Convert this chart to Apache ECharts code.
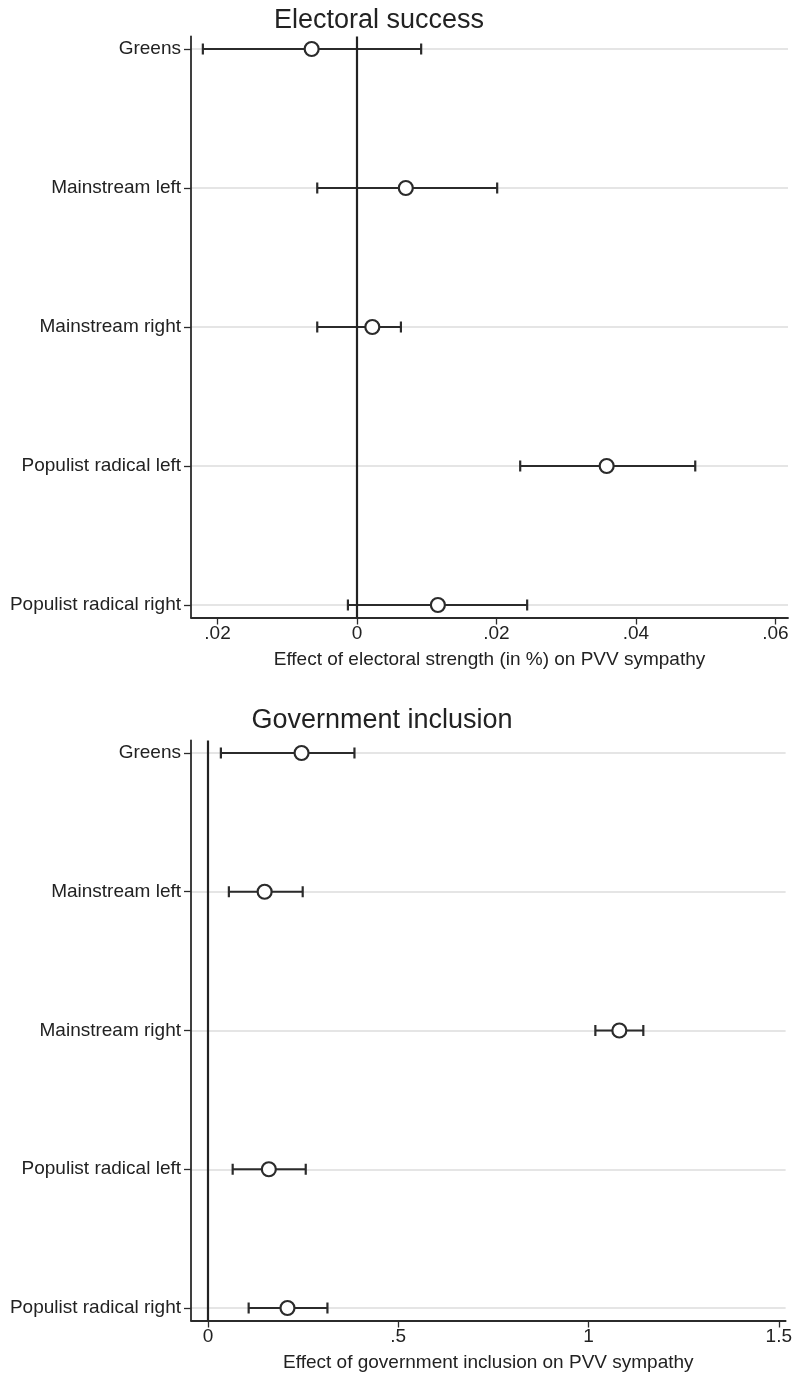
<!DOCTYPE html>
<html>
<head>
<meta charset="utf-8">
<script src="https://cdn.jsdelivr.net/npm/echarts@6/dist/echarts.min.js"></script>
<style>
    html, body { margin: 0; padding: 0; background: #fff; }
    #chart { width: 795px; height: 1375px; }
</style>
</head>
<body>
<div id="chart"></div>
<script>
// party groups, top to bottom
const categories = ['Greens', 'Mainstream left', 'Mainstream right', 'Populist radical left', 'Populist radical right']

// Electoral success panel
const esEst = [-0.0065, 0.0070, 0.0022, 0.0358, 0.0116]
const esLo = [-0.0221, -0.0057, -0.0057, 0.0234, -0.0013]
const esHi = [0.0092, 0.0201, 0.0063, 0.0485, 0.0244]
const esTicks = [-0.02, 0, 0.02, 0.04, 0.06]
const esTickLabels = ['.02', '0', '.02', '.04', '.06']

// Government inclusion panel
const giEst = [0.246, 0.149, 1.081, 0.160, 0.209]
const giLo = [0.034, 0.055, 1.018, 0.065, 0.107]
const giHi = [0.385, 0.249, 1.144, 0.257, 0.314]
const giTicks = [0, 0.5, 1, 1.5]
const giTickLabels = ['0', '.5', '1', '1.5']

const rowIdx = categories.map((c, i) => i)
const ink = '#2b2b2b'
const font = 'Liberation Sans, Arial, sans-serif'

function xAxisCfg(idx, min, max, ticks, labels, name) {
    return {
        gridIndex: idx,
        type: 'value',
        min: min,
        max: max,
        name: name,
        nameLocation: 'middle',
        nameGap: 33,
        nameTextStyle: { color: '#222', fontSize: 19, fontFamily: font },
        axisLine: { show: true, onZero: false, lineStyle: { color: ink, width: 1.8 } },
        axisTick: { show: true, length: 7, customValues: ticks, lineStyle: { color: ink, width: 1.3 } },
        axisLabel: {
            customValues: ticks,
            margin: 7,
            color: '#222',
            fontSize: 19,
            fontFamily: font,
            formatter: v => {
                let i = ticks.findIndex(t => Math.abs(t - v) < 1e-9)
                return i >= 0 ? labels[i] : ''
            }
        },
        splitLine: { show: false }
    }
}

function yAxisCfg(idx) {
    return {
        gridIndex: idx,
        type: 'value',
        inverse: true,
        min: -0.09,
        max: 4.09,
        axisLine: { show: true, onZero: false, lineStyle: { color: ink, width: 1.8 } },
        axisTick: { show: true, length: 7, customValues: rowIdx, lineStyle: { color: ink, width: 1.3 } },
        axisLabel: {
            customValues: rowIdx,
            margin: 10,
            color: '#222',
            fontSize: 19,
            fontFamily: font,
            formatter: v => categories[Math.round(v)] || ''
        },
        splitLine: { show: true, lineStyle: { color: '#ddd', width: 1.5 } }
    }
}

function barSeries(idx, lo, hi) {
    return {
        type: 'custom',
        xAxisIndex: idx,
        yAxisIndex: idx,
        z: 3,
        data: lo.map((l, i) => [l, hi[i], i]),
        renderItem: (params, api) => {
            let a = api.coord([api.value(0), api.value(2)])
            let b = api.coord([api.value(1), api.value(2)])
            let s = { stroke: ink, lineWidth: 2.2 }
            return {
                type: 'group',
                children: [
                    { type: 'line', shape: { x1: a[0], y1: a[1], x2: b[0], y2: b[1] }, style: s },
                    { type: 'line', shape: { x1: a[0], y1: a[1] - 5.5, x2: a[0], y2: a[1] + 5.5 }, style: s },
                    { type: 'line', shape: { x1: b[0], y1: b[1] - 5.5, x2: b[0], y2: b[1] + 5.5 }, style: s }
                ]
            }
        }
    }
}

function pointSeries(idx, est) {
    return {
        type: 'scatter',
        xAxisIndex: idx,
        yAxisIndex: idx,
        z: 5,
        symbol: 'circle',
        symbolSize: 14,
        itemStyle: { color: '#fff', borderColor: ink, borderWidth: 2.2, opacity: 1 },
        data: est.map((e, i) => [e, i]),
        markLine: {
            silent: true,
            symbol: 'none',
            label: { show: false },
            lineStyle: { color: '#222', width: 2.2, type: 'solid' },
            data: [{ xAxis: 0 }]
        }
    }
}

const chart = echarts.init(document.getElementById('chart'))
chart.setOption({
    animation: false,
    backgroundColor: '#fff',
    title: [
        { text: 'Electoral success', left: 374, top: 2, textAlign: 'center',
          textStyle: { color: '#222', fontSize: 27, fontWeight: 'normal', fontFamily: font } },
        { text: 'Government inclusion', left: 377, top: 702, textAlign: 'center',
          textStyle: { color: '#222', fontSize: 27, fontWeight: 'normal', fontFamily: font } }
    ],
    grid: [
        { left: 191, right: 7, top: 36.5, height: 581 },
        { left: 191, right: 7, top: 740.5, height: 580 }
    ],
    xAxis: [
        xAxisCfg(0, -0.0238, 0.0618, esTicks, esTickLabels, 'Effect of electoral strength (in %) on PVV sympathy'),
        xAxisCfg(1, -0.0445, 1.518, giTicks, giTickLabels, 'Effect of government inclusion on PVV sympathy')
    ],
    yAxis: [yAxisCfg(0), yAxisCfg(1)],
    series: [
        barSeries(0, esLo, esHi),
        pointSeries(0, esEst),
        barSeries(1, giLo, giHi),
        pointSeries(1, giEst)
    ]
})
</script>
</body>
</html>
